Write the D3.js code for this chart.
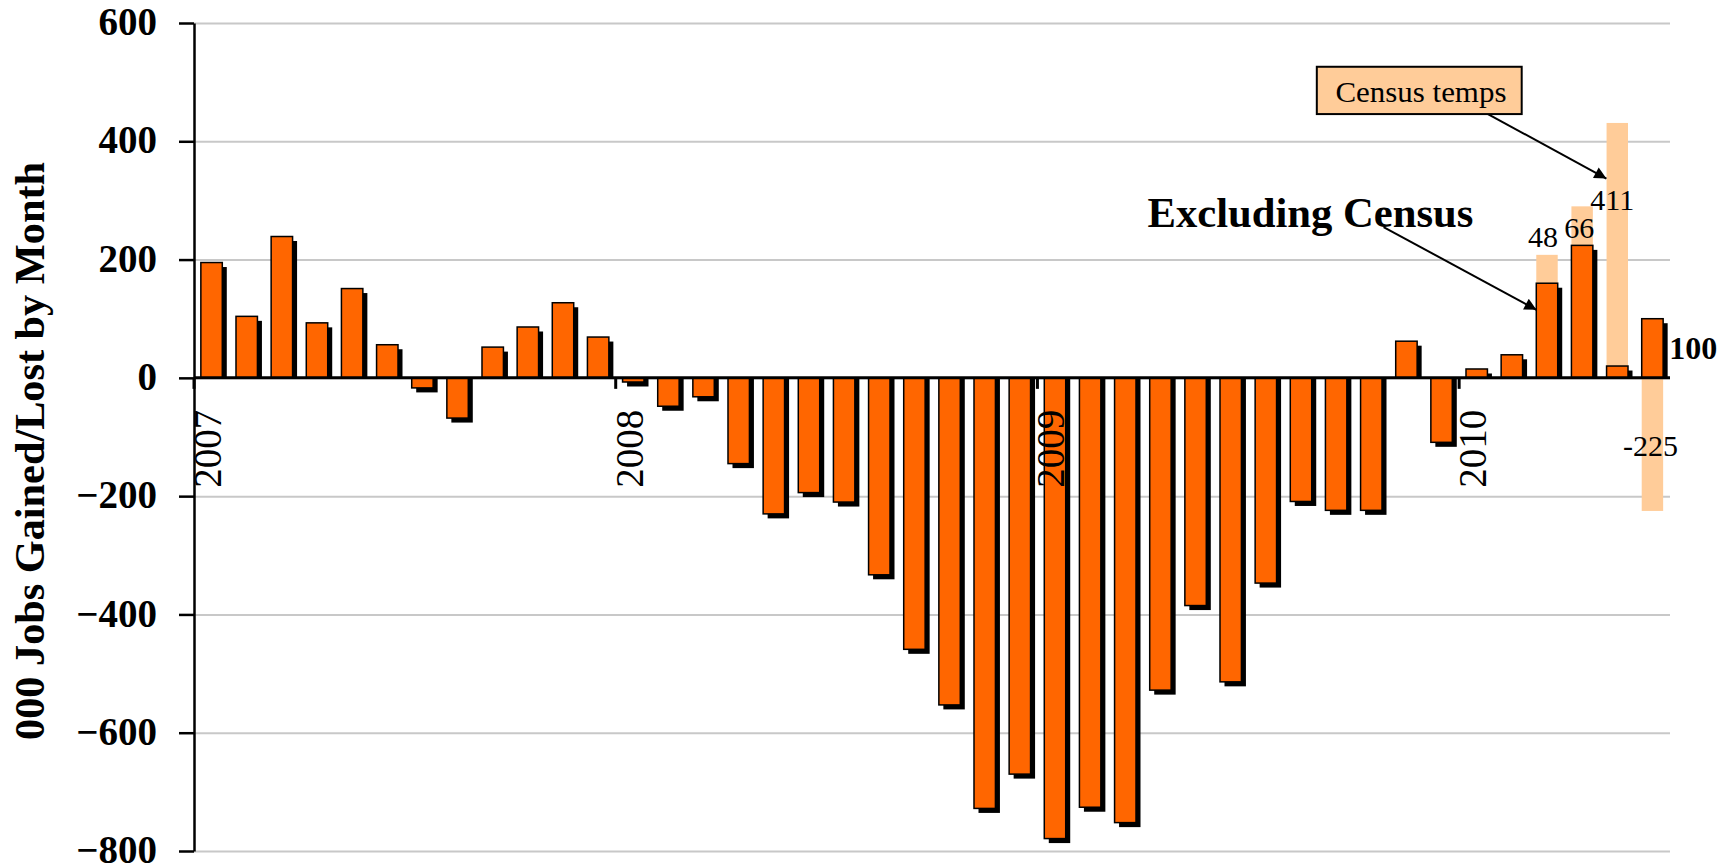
<!DOCTYPE html>
<html>
<head>
<meta charset="utf-8">
<script src="https://cdn.jsdelivr.net/npm/d3@7"></script>
<style>
  body { margin: 0; background: #fff; }
  svg { display: block; font-family: "Liberation Serif", "Times New Roman", serif; }
</style>
</head>
<body>
<div id="chart"></div>
<script>
// Monthly payroll change, thousands, with census temps split out

const width = 1727, height = 868;
const margin = { top: 23, right: 57, bottom: 17, left: 194 };

const months = [
  "Jan 07", "Feb 07", "Mar 07", "Apr 07", "May 07", "Jun 07", "Jul 07", "Aug 07", "Sep 07", "Oct 07", "Nov 07", "Dec 07",
  "Jan 08", "Feb 08", "Mar 08", "Apr 08", "May 08", "Jun 08", "Jul 08", "Aug 08", "Sep 08", "Oct 08", "Nov 08", "Dec 08",
  "Jan 09", "Feb 09", "Mar 09", "Apr 09", "May 09", "Jun 09", "Jul 09", "Aug 09", "Sep 09", "Oct 09", "Nov 09", "Dec 09",
  "Jan 10", "Feb 10", "Mar 10", "Apr 10", "May 10", "Jun 10"
];

// jobs excluding census workers
const exCensus = [
  195, 104, 239, 93, 151, 56, -17, -68, 52, 86, 127, 69,
  -7, -48, -32, -145, -230, -194, -210, -333, -459, -553, -728, -670,
  -779, -726, -752, -528, -385, -514, -347, -209, -224, -224, 62, -109,
  15, 39, 160, 224, 20, 100
];

// census temps (only shown for spring 2010)
const census = [
  0, 0, 0, 0, 0, 0, 0, 0, 0, 0, 0, 0,
  0, 0, 0, 0, 0, 0, 0, 0, 0, 0, 0, 0,
  0, 0, 0, 0, 0, 0, 0, 0, 0, 0, 0, 0,
  0, 0, 48, 66, 411, -225
];

const yearMonths = ["Jan 07", "Jan 08", "Jan 09", "Jan 10"];
const yearLabels = ["2007", "2008", "2009", "2010"];
const yTicks = [600, 400, 200, 0, -200, -400, -600, -800];

const orange = "#FF6600", peach = "#FFCC99";

const svg = d3.select("#chart")
  .append("svg")
  .attr("width", width)
  .attr("height", height)
  .attr("viewBox", [0, 0, width, height]);

const x = d3.scaleBand()
  .domain(months)
  .range([margin.left, width - margin.right])
  .paddingInner(0.39)
  .paddingOuter(0.195);

const y = d3.scaleLinear()
  .domain([-800, 600])
  .range([height - margin.bottom, margin.top]);

// fractional month index -> px, for annotations
const xAt = i => margin.left + i * x.step();
const edge = m => x(m) - x.step() * x.paddingInner() / 2;
const shadow = 4.5;

// gridlines
svg.append("g")
  .attr("transform", `translate(${margin.left},0)`)
  .call(d3.axisLeft(y).tickValues(yTicks).tickSize(-(width - margin.left - margin.right)).tickFormat(""))
  .call(g => g.select(".domain").remove())
  .call(g => g.selectAll("line").attr("stroke", "#c8c8c8").attr("stroke-width", 2));

const table = months.map((m, i) => ({ month: m, ex: exCensus[i], census: census[i] }));
const series = d3.stack().keys(["ex", "census"]).offset(d3.stackOffsetDiverging)(table);

// census temps, light bars behind
svg.append("g")
  .selectAll("rect")
  .data(series[1].filter(d => d[1] !== d[0]))
  .join("rect")
  .attr("x", d => x(d.data.month))
  .attr("y", d => y(Math.max(d[0], d[1])))
  .attr("width", x.bandwidth())
  .attr("height", d => Math.abs(y(d[0]) - y(d[1])))
  .attr("fill", peach);

// drop shadows, kept on the bar's side of the zero line
svg.append("g")
  .selectAll("rect")
  .data(series[0])
  .join("rect")
  .attr("x", d => x(d.data.month) + shadow)
  .attr("y", d => d.data.ex >= 0 ? y(d[1]) + shadow : y(0))
  .attr("width", x.bandwidth())
  .attr("height", d => d.data.ex >= 0 ? Math.max(0, y(0) - y(d[1]) - shadow) : y(d[0]) - y(0) + shadow)
  .attr("fill", "#000");

svg.append("g")
  .selectAll("rect")
  .data(series[0])
  .join("rect")
  .attr("x", d => x(d.data.month))
  .attr("y", d => y(Math.max(d[0], d[1])))
  .attr("width", x.bandwidth())
  .attr("height", d => Math.abs(y(d[0]) - y(d[1])))
  .attr("fill", orange)
  .attr("stroke", "#000")
  .attr("stroke-width", 1.5);

// y axis
svg.append("g")
  .attr("transform", `translate(${margin.left},0)`)
  .call(d3.axisLeft(y).tickValues(yTicks).tickSize(15).tickSizeOuter(0).tickPadding(22))
  .call(g => g.selectAll("line, path").attr("stroke", "#000").attr("stroke-width", 2.5))
  .call(g => g.selectAll("text")
    .attr("fill", "#000")
    .attr("font-family", "Liberation Serif, serif")
    .attr("font-weight", "bold")
    .attr("font-size", 39)
    .attr("dy", "0.3em"));

// zero line
svg.append("line")
  .attr("x1", margin.left)
  .attr("x2", width - margin.right)
  .attr("y1", y(0))
  .attr("y2", y(0))
  .attr("stroke", "#000")
  .attr("stroke-width", 3);

// year ticks and labels
svg.append("g")
  .selectAll("line")
  .data(yearMonths)
  .join("line")
  .attr("x1", d => edge(d))
  .attr("x2", d => edge(d))
  .attr("y1", y(0))
  .attr("y2", y(0) + 11)
  .attr("stroke", "#000")
  .attr("stroke-width", 3);

svg.append("g")
  .selectAll("text")
  .data(yearMonths)
  .join("text")
  .attr("transform", d => `translate(${edge(d) + 27},${y(0) + 110}) rotate(-90)`)
  .attr("font-size", 39)
  .text((d, i) => yearLabels[i]);

// y title
svg.append("text")
  .attr("transform", `translate(44,${(y(600) + y(-800)) / 2 + 14}) rotate(-90)`)
  .attr("text-anchor", "middle")
  .attr("font-weight", "bold")
  .attr("font-size", 42)
  .attr("textLength", 578)
  .attr("lengthAdjust", "spacingAndGlyphs")
  .text("000 Jobs Gained/Lost by Month");

// census value labels
const censusIdx = census.map((v, i) => i).filter(i => census[i] !== 0);
const nudge = { 38: [-4, 8], 39: [-3, -32], 40: [-5, -87], 41: [-2, -15] };
svg.append("g")
  .selectAll("text")
  .data(censusIdx)
  .join("text")
  .attr("x", i => x(months[i]) + x.bandwidth() / 2 + nudge[i][0])
  .attr("y", i => {
    const top = census[i] > 0 ? y(exCensus[i] + census[i]) : y(census[i]);
    return census[i] > 0 ? top - nudge[i][1] : top - nudge[i][1] - 70;
  })
  .attr("text-anchor", "middle")
  .attr("font-size", 30)
  .text(i => census[i]);

// value label for last month
const last = months.length - 1;
svg.append("text")
  .attr("x", x(months[last]) + x.bandwidth() + 6)
  .attr("y", y(exCensus[last] / 2))
  .attr("dy", "0.33em")
  .attr("font-weight", "bold")
  .attr("font-size", 32)
  .text(exCensus[last]);

// annotations
const defs = svg.append("defs");
defs.append("marker")
  .attr("id", "arrow")
  .attr("viewBox", "0 0 10 10")
  .attr("refX", 10)
  .attr("refY", 5)
  .attr("markerUnits", "userSpaceOnUse")
  .attr("markerWidth", 15)
  .attr("markerHeight", 12)
  .attr("orient", "auto")
  .append("path")
  .attr("d", "M0,0L10,5L0,10z")
  .attr("fill", "#000");

const arrows = [
  { from: [36.82, 446], to: [40.19, 337] },
  { from: [33.85, 255], to: [38.2, 115] }
];
svg.append("g")
  .selectAll("line")
  .data(arrows)
  .join("line")
  .attr("x1", d => xAt(d.from[0]))
  .attr("y1", d => y(d.from[1]))
  .attr("x2", d => xAt(d.to[0]))
  .attr("y2", d => y(d.to[1]))
  .attr("stroke", "#000")
  .attr("stroke-width", 2)
  .attr("marker-end", "url(#arrow)");

svg.append("rect")
  .attr("x", xAt(31.95))
  .attr("y", y(526))
  .attr("width", xAt(37.78) - xAt(31.95))
  .attr("height", y(446) - y(526))
  .attr("fill", peach)
  .attr("stroke", "#000")
  .attr("stroke-width", 2);

svg.append("text")
  .attr("x", xAt(32.48))
  .attr("y", y(466))
  .attr("font-size", 30)
  .attr("textLength", 171)
  .attr("lengthAdjust", "spacingAndGlyphs")
  .text("Census temps");

svg.append("text")
  .attr("x", xAt(27.13))
  .attr("y", y(255))
  .attr("font-weight", "bold")
  .attr("font-size", 42)
  .attr("textLength", 326)
  .attr("lengthAdjust", "spacingAndGlyphs")
  .text("Excluding Census");
</script>
</body>
</html>
